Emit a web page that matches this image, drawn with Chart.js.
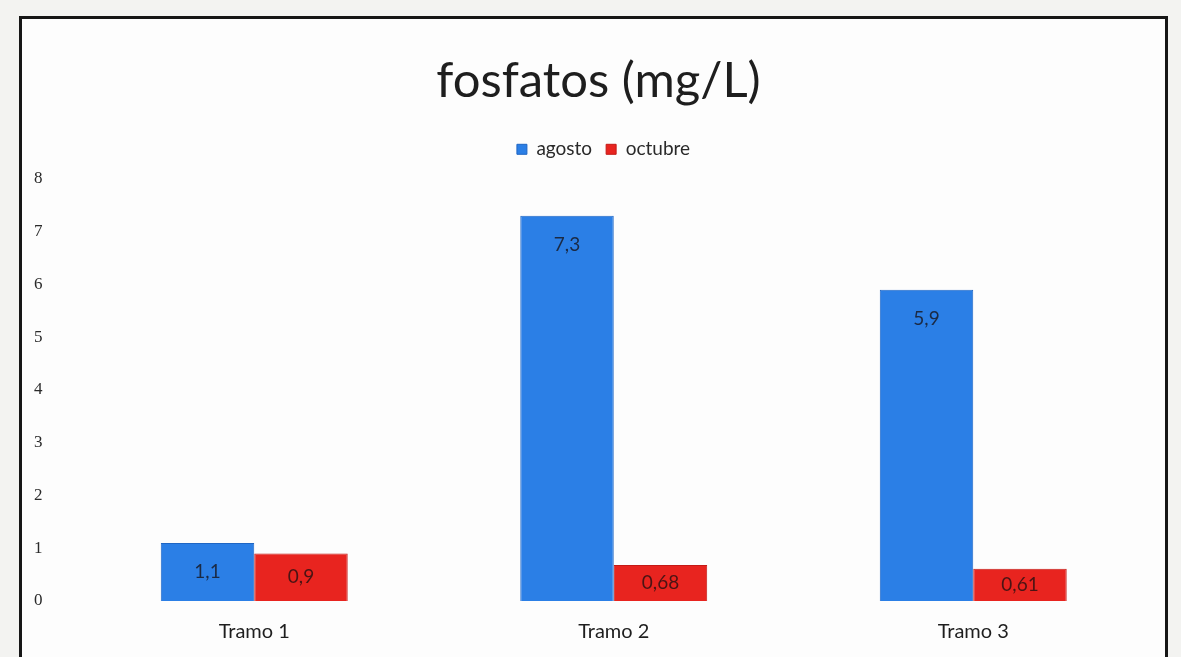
<!DOCTYPE html>
<html>
<head>
<meta charset="utf-8">
<script src="https://cdn.jsdelivr.net/npm/chart.js@4"></script>
<style>
  html, body { margin: 0; padding: 0; background: #f3f3f1; }
  #wrap { position: relative; width: 1181px; height: 657px; overflow: hidden; }
  #frame {
    position: absolute; left: 19px; top: 16px; width: 1143px; height: 660px;
    border: 3px solid #161616; background: #fdfdfd;
  }
  #c { position: absolute; left: 0; top: 0; }
</style>
</head>
<body>
<div id="wrap">
  <div id="frame"></div>
  <canvas id="c" width="1181" height="657"></canvas>
</div>
<script>
const categories = ['Tramo 1', 'Tramo 2', 'Tramo 3'];
const agosto = [1.1, 7.3, 5.9];
const octubre = [0.9, 0.68, 0.61];
const yTicks = [0, 1, 2, 3, 4, 5, 6, 7, 8];

const fmt = v => String(v).replace('.', ',');

// value labels drawn inside each bar, near its top
const barLabels = {
  id: 'barLabels',
  afterDatasetsDraw(chart) {
    const ctx = chart.ctx;
    ctx.save();
    ctx.font = '19px Lato, "Open Sans", sans-serif';
    ctx.textAlign = 'center';
    ctx.textBaseline = 'middle';
    chart.data.datasets.forEach((ds, di) => {
      const meta = chart.getDatasetMeta(di);
      meta.data.forEach((bar, i) => {
        const h = bar.base - bar.y;
        const y = bar.y + Math.min(h / 2, 29);
        ctx.fillStyle = ds.labelColor;
        ctx.fillText(fmt(ds.data[i]), bar.x, y);
      });
    });
    ctx.restore();
  }
};

// extra space under the legend, and title/legend nudged toward the page centre
const headerTweaks = {
  id: 'headerTweaks',
  beforeInit(chart) {
    const fit = chart.legend.fit;
    chart.legend.fit = function () { fit.call(this); this.height += 10; };
  },
  afterLayout(chart) {
    chart.titleBlock.left += 17; chart.titleBlock.right += 17;
    chart.legend.left += 22; chart.legend.right += 22;
  }
};

new Chart(document.getElementById('c'), {
  type: 'bar',
  data: {
    labels: categories,
    datasets: [
      { label: 'agosto', data: agosto, backgroundColor: '#2b7fe6', borderColor: '#1f66c4',
        borderWidth: 1, labelColor: '#1b2a44' },
      { label: 'octubre', data: octubre, backgroundColor: '#e8241f', borderColor: '#c41a16',
        borderWidth: 1, labelColor: '#4a1414' }
    ]
  },
  options: {
    responsive: false,
    animation: false,
    datasets: { bar: { categoryPercentage: 0.52, barPercentage: 1.0 } },
    layout: { padding: { top: 52, left: 10, right: 28, bottom: 2 } },
    plugins: {
      title: {
        display: true,
        text: 'fosfatos (mg/L)',
        color: '#1e1e1e',
        font: { family: 'Lato, "Open Sans", sans-serif', size: 49, weight: 'normal' },
        padding: { top: 0, bottom: 15 }
      },
      legend: {
        display: true,
        labels: {
          color: '#2a2a2a',
          font: { family: 'Lato, "Open Sans", sans-serif', size: 19 },
          boxWidth: 10, boxHeight: 10, padding: 14
        }
      },
      tooltip: { enabled: false }
    },
    scales: {
      x: {
        grid: { display: false },
        border: { display: false },
        ticks: { color: '#1e1e1e', font: { family: 'Lato, "Open Sans", sans-serif', size: 20 }, padding: 11 }
      },
      y: {
        min: 0, max: 8,
        afterBuildTicks(scale) { scale.ticks = yTicks.map(v => ({ value: v })); },
        grid: { display: false },
        border: { display: false },
        ticks: { color: '#2a2a2a', font: { family: '"Liberation Serif", serif', size: 17 }, padding: 24 }
      }
    }
  },
  plugins: [barLabels, headerTweaks]
});
</script>
</body>
</html>
